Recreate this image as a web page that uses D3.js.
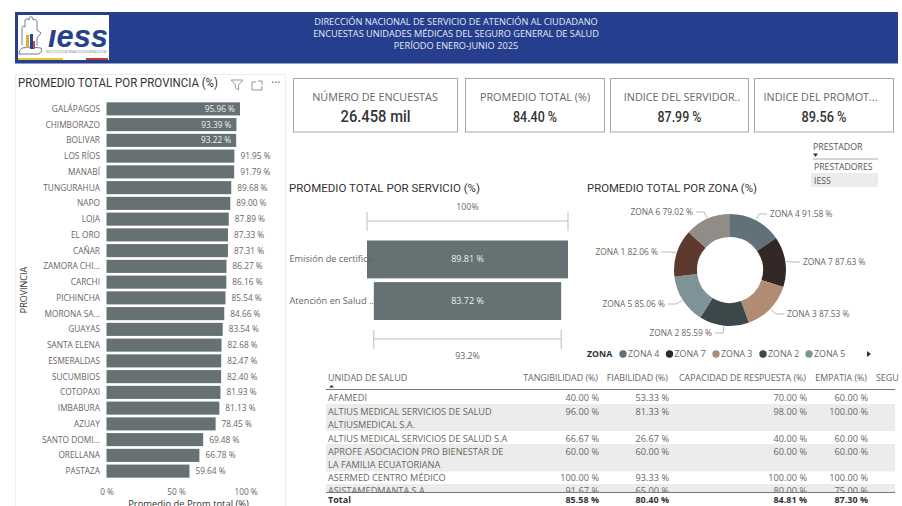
<!DOCTYPE html>
<html>
<head>
<meta charset="utf-8">
<script src="https://cdn.jsdelivr.net/npm/d3@7"></script>
<style>
  body { margin: 0; background: #fff; overflow: hidden; }
  svg { display: block; }
  text { font-family: "Open Sans", sans-serif; fill: #6b6560; }
  .title { font-family: Roboto, sans-serif; fill: #333; }
  .dark { fill: #333; }
</style>
</head>
<body>
<svg id="chart" width="902" height="506"></svg>
<script>
const headerLines = [
  "DIRECCIÓN NACIONAL DE SERVICIO DE ATENCIÓN AL CIUDADANO",
  "ENCUESTAS UNIDADES MÉDICAS DEL SEGURO GENERAL DE SALUD",
  "PERÍODO ENERO-JUNIO 2025"
];

const provinces = ["GALÁPAGOS", "CHIMBORAZO", "BOLIVAR", "LOS RÍOS", "MANABÍ", "TUNGURAHUA", "NAPO", "LOJA", "EL ORO", "CAÑAR", "ZAMORA CHI...", "CARCHI", "PICHINCHA", "MORONA SA...", "GUAYAS", "SANTA ELENA", "ESMERALDAS", "SUCUMBIOS", "COTOPAXI", "IMBABURA", "AZUAY", "SANTO DOMI...", "ORELLANA", "PASTAZA"];
const provinceValues = [95.96, 93.39, 93.22, 91.95, 91.79, 89.68, 89.00, 87.89, 87.33, 87.31, 86.27, 86.16, 85.54, 84.66, 83.54, 82.68, 82.47, 82.40, 81.93, 81.13, 78.45, 69.48, 66.78, 59.64];
const provinceTicks = [0, 50, 100];

const cardTitles = ["NÚMERO DE ENCUESTAS", "PROMEDIO TOTAL (%)", "INDICE DEL SERVIDOR..", "INDICE DEL PROMOT..."];
const cardValues = ["26.458 mil", "84.40 %", "87.99 %", "89.56 %"];

const services = ["Emisión de certifica...", "Atención en Salud ..."];
const serviceValues = [89.81, 83.72];

const zones = ["ZONA 4", "ZONA 7", "ZONA 3", "ZONA 2", "ZONA 5", "ZONA 1", "ZONA 6"];
const zoneValues = [91.58, 87.63, 87.53, 85.59, 85.06, 82.06, 79.02];
const zoneColors = ["#5f7179", "#332826", "#b08d72", "#3c4749", "#7f9298", "#5e3a2e", "#918c87"];

const tableColumns = ["TANGIBILIDAD (%)", "FIABILIDAD (%)", "CAPACIDAD DE RESPUESTA (%)", "EMPATIA (%)"];
const tableUnits = [
  ["AFAMEDI"],
  ["ALTIUS MEDICAL SERVICIOS DE SALUD", "ALTIUSMEDICAL S.A."],
  ["ALTIUS MEDICAL SERVICIOS DE SALUD S.A"],
  ["APROFE ASOCIACION PRO BIENESTAR DE", "LA FAMILIA ECUATORIANA"],
  ["ASERMED CENTRO MÉDICO"],
  ["ASISTAMEDMANTA S.A."]
];
const tableRows = [
  ["40.00 %", "53.33 %", "70.00 %", "60.00 %"],
  ["96.00 %", "81.33 %", "98.00 %", "100.00 %"],
  ["66.67 %", "26.67 %", "40.00 %", "60.00 %"],
  ["60.00 %", "60.00 %", "60.00 %", "60.00 %"],
  ["100.00 %", "93.33 %", "100.00 %", "100.00 %"],
  ["91.67 %", "65.00 %", "80.00 %", "75.00 %"]
];
const tableTotals = ["85.58 %", "80.40 %", "84.81 %", "87.30 %"];

const barColor = "#667174";
const svg = d3.select("#chart");

function label(parent, x, y, str, size, anchor) {
  return parent.append("text")
    .attr("x", x).attr("y", y)
    .attr("font-size", size)
    .attr("text-anchor", anchor || "start")
    .text(str);
}

// DIN-like titles: squeeze Roboto to the original's width
function title(x, y, str, size, width) {
  return label(svg, x, y, str, size)
    .attr("class", "title")
    .attr("textLength", width)
    .attr("lengthAdjust", "spacingAndGlyphs");
}

// header
svg.append("rect").attr("x", 15).attr("y", 12).attr("width", 883).attr("height", 51.5).attr("fill", "#253f8e");
svg.append("rect").attr("x", 18).attr("y", 15).attr("width", 91).attr("height", 45).attr("fill", "#fff");
const logo = svg.append("g");
logo.append("path")
  .attr("d", "M22 45 V29 Q22 25 25 27 V20 Q27 17 29 20 V18 Q31 15 33 18 V20 Q36 18 37 21 V30 L41 33 L37 38 V46 M19 54 H38 Q43 53 41 48 Q30 46 22 48 Q19 50 19 54")
  .attr("fill", "none").attr("stroke", "#5c6f8c").attr("stroke-width", 0.9);
logo.append("rect").attr("x", 26).attr("y", 35).attr("width", 3).attr("height", 13).attr("fill", "#d8b13c");
logo.append("rect").attr("x", 30).attr("y", 34).attr("width", 3).attr("height", 15).attr("fill", "#27418f");
logo.append("rect").attr("x", 33).attr("y", 41).attr("width", 2).attr("height", 8).attr("fill", "#c0504d");
logo.append("text").attr("x", 48).attr("y", 47)
  .attr("font-size", 32).attr("font-weight", 700).attr("font-style", "italic")
  .attr("textLength", 60).attr("lengthAdjust", "spacingAndGlyphs")
  .style("fill", "#27418f").style("font-family", "'Liberation Sans'").text("ıess");
logo.append("text").attr("x", 46).attr("y", 53).attr("font-size", 3)
  .attr("textLength", 61).attr("lengthAdjust", "spacingAndGlyphs")
  .style("fill", "#777").text("INSTITUTO ECUATORIANO DE SEGURIDAD SOCIAL");
logo.append("rect").attr("x", 18).attr("y", 58).attr("width", 45).attr("height", 2).attr("fill", "#e7c531");
logo.append("rect").attr("x", 86).attr("y", 58).attr("width", 22).attr("height", 2).attr("fill", "#c0392b");
headerLines.forEach((d, i) => {
  label(svg, 456, 24.5 + i * 12.4, d, 9.2, "middle").style("fill", "#e6e9f2");
});

// provincias
svg.append("rect").attr("x", 15.5).attr("y", 74.5).attr("width", 270).attr("height", 440).attr("fill", "none").attr("stroke", "#ececec");
title(18, 86.5, "PROMEDIO TOTAL POR PROVINCIA (%)", 12.5, 200);
const icons = svg.append("g").attr("fill", "none").attr("stroke", "#999");
icons.append("path").attr("d", "M231 80 H243 L238.5 85 V90 L235.5 88 V85 Z");
icons.append("path").attr("d", "M252 82 H256 M252 82 V90 H262 V86 M258 81 H262 V85");
label(svg, 271, 87, "···", 12).style("fill", "#777");

const xProv = d3.scaleLinear().domain([0, 100]).range([106.5, 245.6]);
const yProv = d3.scaleBand().domain(provinces).range([101, 479]).paddingInner(0.17).paddingOuter(0.085);

svg.selectAll(".bar").data(provinces).enter().append("rect")
  .attr("class", "bar")
  .attr("x", xProv(0))
  .attr("y", (d) => yProv(d))
  .attr("width", (d, i) => xProv(provinceValues[i]) - xProv(0))
  .attr("height", yProv.bandwidth())
  .attr("fill", barColor);

svg.selectAll(".prov").data(provinces).enter().append("text")
  .attr("class", "prov")
  .attr("x", 100)
  .attr("y", (d) => yProv(d) + yProv.bandwidth() / 2 + 3)
  .attr("text-anchor", "end")
  .attr("font-size", 8.3)
  .text((d) => d);

svg.selectAll(".provValue").data(provinceValues).enter().append("text")
  .attr("class", "provValue")
  .attr("x", (d, i) => (i < 3 ? xProv(d) - 5 : xProv(d) + 6))
  .attr("y", (d, i) => yProv(provinces[i]) + yProv.bandwidth() / 2 + 3)
  .attr("text-anchor", (d, i) => (i < 3 ? "end" : "start"))
  .attr("font-size", 8.3)
  .style("fill", (d, i) => (i < 3 ? "#eef0f0" : "#6b6560"))
  .text((d) => d.toFixed(2) + " %");

const provAxis = svg.append("g")
  .attr("transform", "translate(0,484)")
  .call(d3.axisBottom(xProv).tickValues(provinceTicks).tickSize(0).tickFormat((d) => d + " %"));
provAxis.select(".domain").remove();
provAxis.selectAll("text").attr("font-size", 8.3).attr("font-family", "Open Sans").attr("dy", "8");

label(svg, 188.5, 507, "Promedio de Prom total (%)", 9.4, "middle").attr("class", "dark");
label(svg, 0, 0, "PROVINCIA", 9, "middle").attr("class", "dark")
  .attr("transform", "translate(27,290) rotate(-90)");

// tarjetas
const cardX = [293.5, 465.5, 610.5, 754.5];
const cardW = [164, 139, 138, 139];
const cardTitleX = [375, 535, 682, 820.5];
const cardValueW = [70, 44, 44, 45];
cardTitles.forEach((t, i) => {
  svg.append("rect").attr("x", cardX[i]).attr("y", 78.5).attr("width", cardW[i]).attr("height", 53.5)
    .attr("fill", "#fff").attr("stroke", "#a8a8a8");
  label(svg, cardTitleX[i], 101, t, 10.8, "middle");
  label(svg, cardX[i] + cardW[i] / 2, 122, cardValues[i], i == 0 ? 16 : 14, "middle").attr("class", "dark")
    .attr("font-weight", 500)
    .attr("textLength", cardValueW[i]).attr("lengthAdjust", "spacingAndGlyphs")
    .style("font-family", "Roboto, sans-serif");
});

// slicer
label(svg, 813, 150, "PRESTADOR", 8.8).style("fill", "#555");
svg.append("path").attr("d", "M813 153.5 H818 L815.5 157 Z").attr("fill", "#333");
svg.append("line").attr("x1", 813).attr("x2", 878).attr("y1", 159).attr("y2", 159).attr("stroke", "#aaa");
label(svg, 814, 170, "PRESTADORES", 8.7).style("fill", "#555");
svg.append("rect").attr("x", 811).attr("y", 173).attr("width", 67).attr("height", 14).attr("fill", "#ececec");
label(svg, 814, 184, "IESS", 8.7).style("fill", "#555");

// embudo
title(289, 192, "PROMEDIO TOTAL POR SERVICIO (%)", 11.5, 191);
const xFun = d3.scaleLinear().domain([0, serviceValues[0]]).range([0, 201]);
const yFun = d3.scaleBand().domain(services).range([240.5, 320]).paddingInner(0.09);
const funCenter = 467.5;

svg.selectAll(".fun").data(services).enter().append("rect")
  .attr("class", "fun")
  .attr("x", (d, i) => funCenter - xFun(serviceValues[i]) / 2)
  .attr("y", (d) => yFun(d))
  .attr("width", (d, i) => xFun(serviceValues[i]))
  .attr("height", yFun.bandwidth())
  .attr("fill", barColor);

services.forEach((s, i) => {
  const y = yFun(s) + yFun.bandwidth() / 2 + 3;
  label(svg, 289.5, y, s, 9.2);
  label(svg, funCenter, y, serviceValues[i].toFixed(2) + " %", 9, "middle").style("fill", "#eef0f0");
});

const rulers = [[serviceValues[0], 221, "100%", 210], [serviceValues[1], 339, "93.2%", 359]];
rulers.forEach(([v, y, txt, ty]) => {
  const w = xFun(v);
  const r = svg.append("g").attr("stroke", "#bdbdbd").attr("fill", "none");
  r.append("line").attr("x1", funCenter - w / 2).attr("x2", funCenter + w / 2).attr("y1", y).attr("y2", y);
  r.append("line").attr("x1", funCenter - w / 2).attr("x2", funCenter - w / 2).attr("y1", y - 9).attr("y2", y + 10);
  r.append("line").attr("x1", funCenter + w / 2).attr("x2", funCenter + w / 2).attr("y1", y - 9).attr("y2", y + 10);
  label(svg, funCenter, ty, txt, 8.8, "middle");
});

// dona
title(587, 192, "PROMEDIO TOTAL POR ZONA (%)", 11.5, 170);
const cx = 730, cy = 270, outer = 56, inner = 33;
const zoneData = d3.pie().sort(null).value((d) => d)(zoneValues);
const arc = d3.arc().innerRadius(inner).outerRadius(outer);
const donut = svg.append("g").attr("transform", `translate(${cx},${cy})`);
donut.selectAll("path").data(zoneData).enter().append("path")
  .attr("d", arc)
  .attr("fill", (d, i) => zoneColors[i]);

const labelAnchor = [[770, 217, "start"], [803, 265, "start"], [787, 317, "start"], [712, 336, "end"], [665, 307, "end"], [658, 255, "end"], [693, 215, "end"]];
zoneData.forEach((d, i) => {
  const a = (d.startAngle + d.endAngle) / 2;
  const px = cx + Math.sin(a) * (outer + 1), py = cy - Math.cos(a) * (outer + 1);
  const [lx, ly, anchor] = labelAnchor[i];
  const lineEnd = anchor == "start" ? lx - 3 : lx + 3;
  const bend = anchor == "start" ? lineEnd - 8 : lineEnd + 8;
  svg.append("path")
    .attr("d", `M${px} ${py} L${bend} ${ly - 3} L${lineEnd} ${ly - 3}`)
    .attr("fill", "none").attr("stroke", "#bbb");
  label(svg, lx, ly, zones[i] + " " + d.value.toFixed(2) + " %", 8.4, anchor);
});

// leyenda
label(svg, 587, 357, "ZONA", 8.8).attr("class", "dark").attr("font-weight", 700);
const legendX = [623, 669.5, 716, 763, 809];
zones.slice(0, 5).forEach((z, i) => {
  svg.append("circle").attr("cx", legendX[i]).attr("cy", 354).attr("r", 3.7).attr("fill", zoneColors[i]);
  label(svg, legendX[i] + 5, 357, z, 8.8);
});
svg.append("path").attr("d", "M867 351 L871 354 L867 357 Z").attr("fill", "#333");

// tabla
const colRight = [599, 669, 807, 868];
const tbl = svg.append("g");
label(tbl, 328, 381, "UNIDAD DE SALUD", 9);
tbl.append("path").attr("d", "M329 387.5 L331.5 385 L334 387.5 Z").attr("fill", "#333");
tableColumns.forEach((c, i) => label(tbl, colRight[i] - 1, 381, c, 8.9, "end"));
label(tbl, 876, 381, "SEGU", 8.9);

const rowTop = [391, 404, 432, 444, 471.5, 484];
const rowBottom = [404, 431, 444, 471.5, 484, 492];
tableUnits.forEach((lines, i) => {
  if (i % 2 == 1) {
    tbl.append("rect").attr("x", 326).attr("y", rowTop[i]).attr("width", 569)
      .attr("height", rowBottom[i] - rowTop[i]).attr("fill", "#ececec");
  }
  const base = rowTop[i] + (lines.length > 1 ? 11 : 9.5);
  lines.forEach((l, k) => label(tbl, 328, base + k * 12.5, l, 9.2));
  tableRows[i].forEach((v, j) => label(tbl, colRight[j], base, v, 9.2, "end"));
});
tbl.append("rect").attr("x", 322).attr("y", 492).attr("width", 580).attr("height", 14).attr("fill", "#fff");
tbl.append("line").attr("x1", 326).attr("x2", 895).attr("y1", 389.5).attr("y2", 389.5).attr("stroke", "#777");
tbl.append("line").attr("x1", 326).attr("x2", 895).attr("y1", 492.5).attr("y2", 492.5).attr("stroke", "#777");
label(tbl, 328, 503, "Total", 9).attr("class", "dark").attr("font-weight", 700);
tableTotals.forEach((v, j) => label(tbl, colRight[j], 503, v, 9, "end").attr("class", "dark").attr("font-weight", 700));
</script>
</body>
</html>
